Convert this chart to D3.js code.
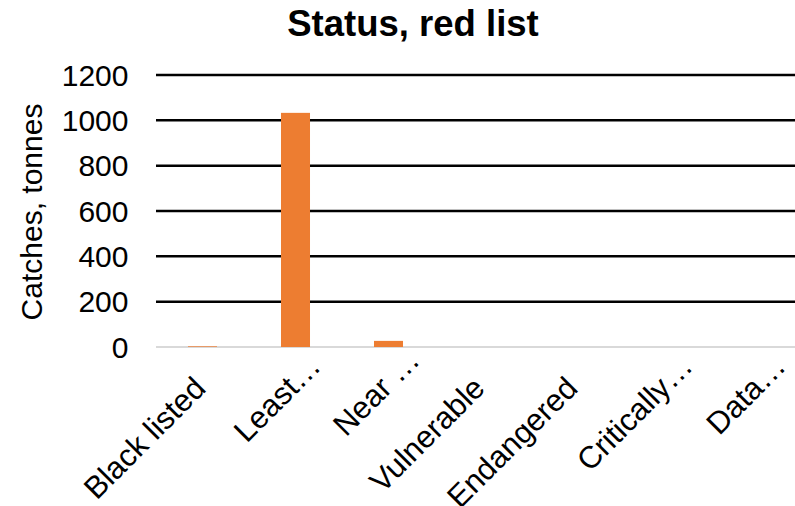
<!DOCTYPE html>
<html><head><meta charset="utf-8">
<script src="https://cdn.jsdelivr.net/npm/d3@7"></script>
<style>body{margin:0;background:#fff}svg{display:block}text{font-family:"Liberation Sans",Arial,sans-serif;white-space:pre}</style>
</head><body>
<svg id="c" width="795" height="506"></svg>
<script>
const categories = ["Black listed","Least…","Near …","Vulnerable","Endangered","Critically…","Data…"];
const catches = [3, 1033, 27, 0, 0, 0, 0];
const yTicks = [0,200,400,600,800,1000,1200];
const title = "Status, red list";
const yTitle = "Catches, tonnes";

const svg = d3.select("#c");
const mLeft = 156, mRight = 807, mTop = 75, mBottom = 347;
const x = d3.scaleBand().domain(categories).range([mLeft, mRight]).paddingInner(0.688).paddingOuter(0.344);
const y = d3.scaleLinear().domain([0,1200]).range([mBottom, mTop]);

svg.append("text").attr("x", 413).attr("y", 36).attr("text-anchor","middle")
  .attr("font-size", 36.5).attr("font-weight","bold").text(title);

const g = svg.append("g");
g.selectAll("line.grid").data(yTicks).join("line")
  .attr("x1", mLeft).attr("x2", mRight)
  .attr("y1", d=>y(d)).attr("y2", d=>y(d))
  .attr("stroke", d=> d===0 ? "#d9d9d9" : "#000").attr("stroke-width", d=> d===0 ? 2 : 2.5);

g.selectAll("text.tick").data(yTicks).join("text")
  .attr("x", 128.5).attr("y", d=>y(d)).attr("dy","0.36em").attr("text-anchor","end")
  .attr("font-size", 30).text(d=>d);

svg.append("text").attr("transform", `translate(42,${212}) rotate(-90)`)
  .attr("text-anchor","middle").attr("font-size",30).text(yTitle);

g.selectAll("rect").data(categories).join("rect")
  .attr("x", d=>x(d)).attr("width", x.bandwidth())
  .attr("y", (d,i)=>y(catches[i])).attr("height", (d,i)=>mBottom - y(catches[i]))
  .attr("fill", "#ED7D31");

const labs = svg.selectAll("g.cat").data(categories).join("g")
  .attr("transform", d=>`translate(${x(d)+x.bandwidth()/2+5},390) rotate(-45)`);
labs.append("text").attr("text-anchor","end").attr("font-size",31)
  .text(d=>d.replace(/\s*…$/,""));
labs.append("text").attr("text-anchor","start").attr("font-size",31)
  .text(d=>{const b=d.replace(/\s*…$/,""); return d.slice(b.length);});
</script>
</body></html>
